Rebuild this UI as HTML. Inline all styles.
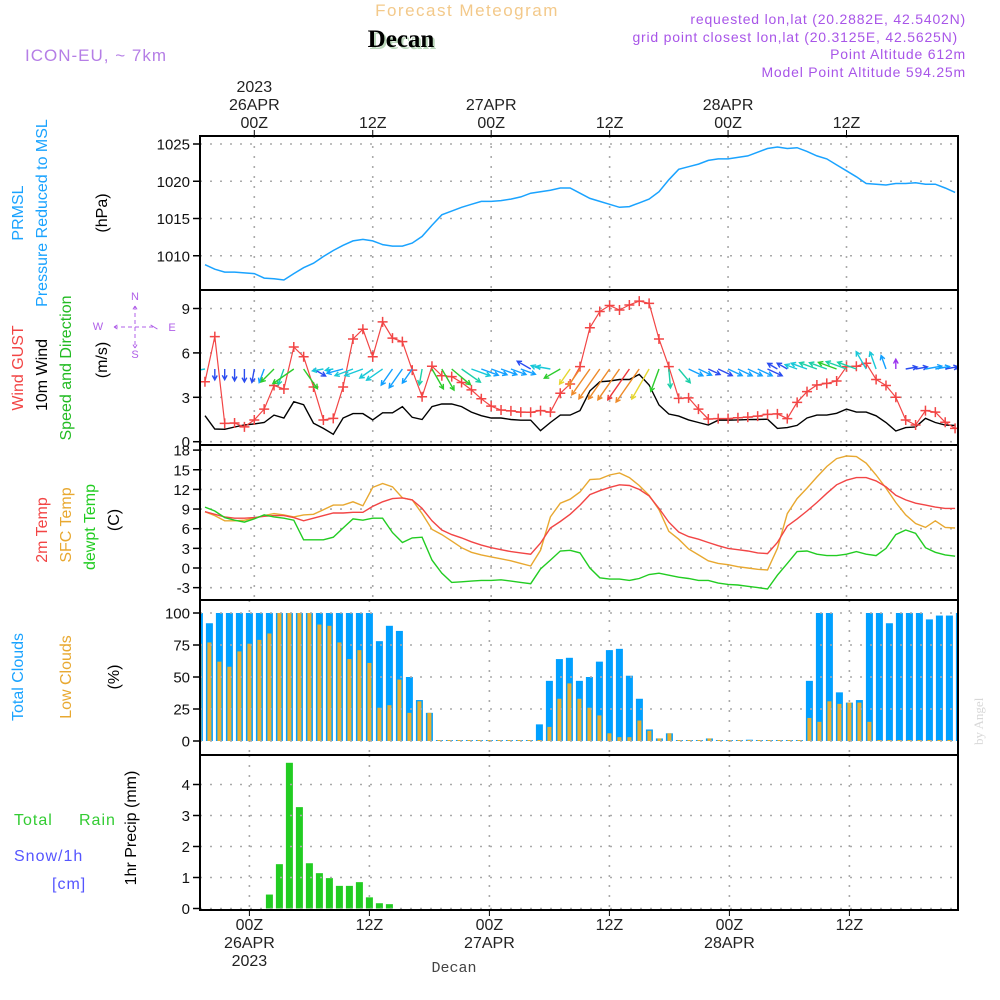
<!DOCTYPE html>
<html><head><meta charset="utf-8">
<style>
html,body{margin:0;padding:0;background:#fff;}
svg{display:block;}
text{font-family:"Liberation Sans",sans-serif;}
</style></head>
<body>
<svg id="chart" width="1000" height="1000" viewBox="0 0 1000 1000" xmlns="http://www.w3.org/2000/svg">
<rect x="0" y="0" width="1000" height="1000" fill="#fff"/>
<text x="467" y="16" text-anchor="middle" font-size="17" fill="#f3c98a" letter-spacing="1.5">Forecast Meteogram</text>
<text x="403" y="49" text-anchor="middle" font-size="25" font-weight="bold" style="font-family:'Liberation Serif',serif" fill="#bcd8bc">Decan</text>
<text x="401" y="47" text-anchor="middle" font-size="25" font-weight="bold" style="font-family:'Liberation Serif',serif" fill="#000">Decan</text>
<text x="25" y="61" font-size="17" fill="#b57ee6" letter-spacing="1">ICON-EU, ~ 7km</text>
<text x="966" y="24" text-anchor="end" font-size="14" fill="#a855e8" letter-spacing="0.8">requested lon,lat (20.2882E, 42.5402N)</text>
<text x="958" y="42" text-anchor="end" font-size="14" fill="#a855e8" letter-spacing="0.8">grid point closest lon,lat (20.3125E, 42.5625N)</text>
<text x="966" y="59" text-anchor="end" font-size="14" fill="#a855e8" letter-spacing="0.8">Point Altitude 612m</text>
<text x="966" y="77" text-anchor="end" font-size="14" fill="#a855e8" letter-spacing="0.8">Model Point Altitude 594.25m</text>
<text transform="translate(983,745) rotate(-90)" font-size="13" style="font-family:'Liberation Serif',serif" fill="#d8d8d8">by Angel</text>
<text x="454" y="972" text-anchor="middle" font-size="15" style="font-family:'Liberation Mono',monospace" fill="#444">Decan</text>
<g id="lefts"></g>
<g id="plot"></g>
</svg>
<script>
// ---------------- DATA (hourly, h = -5 .. 71 relative to 26APR 00Z) ----------------
const startHour = -5;
const pressure = [1008.8,1008.2,1007.8,1007.8,1007.7,1007.6,
1007.0,1006.9,1006.75,1007.6,1008.4,1009.0,1009.9,1010.7,1011.4,1012.0,
1012.2,1012.0,1011.5,1011.3,1011.3,1011.7,1012.6,1014.1,1015.5,1016.0,
1016.5,1016.9,1017.3,1017.3,1017.4,1017.6,1017.9,1018.4,1018.6,1018.8,
1019.1,1019.1,1018.4,1017.7,1017.3,1016.9,1016.5,1016.6,1017.1,1017.6,
1018.6,1020.2,1021.6,1021.95,1022.3,1022.8,1023.0,1023.0,1023.2,1023.4,
1023.9,1024.4,1024.6,1024.4,1024.5,1024.0,1023.4,1023.0,1022.2,1021.4,
1020.6,1019.7,1019.6,1019.5,1019.7,1019.7,1019.8,1019.6,1019.6,1019.1,1018.5];
const gust = [4.05,7.1,1.24,1.26,1.0,1.47,
2.2,3.8,3.56,6.4,5.74,3.7,1.47,1.58,3.7,6.94,
7.6,5.74,8.1,7.0,6.76,4.84,3.04,5.1,4.46,4.4,
4.0,3.5,2.9,2.4,2.14,2.08,2.0,1.99,2.1,2.0,
3.27,3.9,5.07,7.7,8.8,9.2,8.9,9.24,9.5,9.35,
6.94,5.07,2.93,2.96,2.2,1.53,1.56,1.56,1.62,1.66,
1.73,1.85,1.88,1.56,2.66,3.38,3.83,3.94,4.1,5.07,
5.1,5.3,4.2,3.8,3.0,1.47,1.13,2.1,2.0,1.31,0.9];
const wind10 = [1.76,0.86,0.84,0.99,1.13,1.2,
1.3,1.8,1.6,2.7,2.5,1.25,0.9,0.5,1.6,1.9,
1.9,1.47,1.95,1.95,2.37,1.65,1.5,2.37,2.55,2.55,
2.37,2.0,1.76,1.6,1.6,1.5,1.45,1.45,0.74,1.3,
1.8,1.8,2.1,3.43,4.05,4.1,4.2,4.2,4.55,3.83,
2.48,1.87,1.73,1.47,1.3,1.13,1.45,1.45,1.47,1.49,
1.5,1.52,0.9,0.95,1.1,1.6,1.8,1.8,1.92,2.2,
2.0,2.0,1.75,1.3,0.72,0.95,1.0,1.58,1.3,1.13,1.1];
const windToward = [260,180,180,180,180,190,
200,225,200,235,145,120,260,260,255,250,
250,235,235,215,215,215,190,150,150,130,
125,110,110,110,110,110,110,300,290,280,
240,215,215,215,215,215,215,215,215,210,
200,175,140,115,115,115,115,115,115,115,
115,115,300,300,290,290,290,290,290,290,
290,330,340,340,0,80,80,80,80,80,80];
const windColorClass = ["c","b","b","b","b","b",
"lb","g","t","g","g","b","c","c","lb","c",
"c","c","c","lb","lb","lb","t","g","g","g",
"t","c","lb","lb","lb","lb","lb","b","c","c",
"g","y","o","o","o","o","o","r","o","y",
"g","t","t","lb","lb","b","b","lb","lb","lb",
"lb","b","b","b","c","c","t","t","g","t",
"t","c","c","lb","p","b","b","lb","lb","b","b"];
const temp2m = [8.6,8.2,7.8,7.6,7.6,7.7,
7.9,8.0,8.0,7.7,7.2,7.6,8.0,8.4,8.4,8.5,
8.5,9.4,10.1,10.6,10.7,10.4,9.1,7.2,5.8,5.1,
4.6,4.0,3.5,3.1,2.8,2.5,2.3,2.1,3.8,6.1,
7.1,8.2,9.6,11.2,11.8,12.3,12.7,12.6,12.0,11.0,
9.1,7.0,5.5,4.8,4.4,3.9,3.4,3.0,2.8,2.6,
2.3,2.2,3.9,6.4,7.5,8.7,10.0,11.4,12.7,13.4,
13.8,13.8,13.3,12.4,11.1,10.4,9.9,9.6,9.3,9.1,9.1];
const tempSfc = [8.6,8.0,7.2,7.2,7.3,7.6,
8.0,8.3,8.1,7.8,8.1,8.2,8.9,9.6,9.6,10.1,
9.5,12.3,12.9,12.4,10.7,10.4,8.3,5.9,5.1,4.1,
3.1,2.4,2.0,1.7,1.4,1.1,0.7,0.3,2.7,7.8,
9.9,10.5,11.6,13.5,13.6,14.2,14.5,13.8,12.6,11.1,
8.9,5.6,4.4,2.9,2.0,1.1,0.7,0.5,0.2,0.0,
-0.2,-0.3,3.0,8.3,10.6,12.2,13.9,15.5,16.7,17.1,
17.0,16.0,14.2,12.2,10.0,8.1,6.8,6.2,7.2,6.2,6.1];
const dewpt = [9.3,8.7,7.7,7.3,7.0,7.5,
8.1,7.8,7.6,7.3,4.3,4.3,4.3,4.7,6.1,7.5,
7.3,7.6,7.6,5.4,3.9,4.6,4.7,1.2,-0.8,-2.2,
-2.1,-2.0,-1.9,-1.9,-1.8,-2.0,-2.2,-2.4,-0.15,1.2,
2.6,2.7,2.3,0.0,-1.5,-1.7,-1.7,-1.9,-1.6,-1.0,
-0.8,-1.1,-1.4,-1.6,-1.9,-1.9,-2.3,-2.5,-2.6,-2.8,
-3.0,-3.2,-1.1,0.7,2.5,2.6,2.1,1.9,1.9,2.1,
2.5,2.1,1.9,3.0,5.1,5.8,5.3,3.1,2.4,2.0,1.8];
const totalClouds = [100,92,100,100,100,100,
100,100,100,100,100,100,100,100,100,100,
100,100,78,90,86,50,32,22,0,0,
0,0,0,0,0,0,0,0,13,47,
64,65,47,50,62,71,72,51,33,9,
2,6,0,0,0,2,0,0,0,1,
0,0,0,0,0,47,100,100,38,30,
32,100,100,92,100,100,100,95,98,98,100];
const lowClouds = [76,77,62,58,70,76,
79,84,100,100,100,100,91,90,77,64,
71,61,26,28,48,22,31,22,0,0,
0,0,0,0,0,0,0,0,0,11,
33,45,33,26,20,6,3,3,16,8,
2,6,0,0,0,2,0,0,0,0,
0,0,0,0,0,18,15,31,29,30,
30,15,0,0,0,0,0,0,0,0,0];
const precip = [0,0,0,0,0,0,
0,0.45,1.43,4.7,3.27,1.46,1.14,0.98,0.73,0.73,
0.85,0.36,0.17,0.14,0,0,0,0,0,0,
0,0,0,0,0,0,0,0,0,0,
0,0,0,0,0,0,0,0,0,0,
0,0,0,0,0,0,0,0,0,0,
0,0,0,0,0,0,0,0,0,0,
0,0,0,0,0,0,0,0,0,0,0];
const pressTicks = [1010,1015,1020,1025];
const windTicks = [0,3,6,9];
const tempTicks = [-3,0,3,6,9,12,15,18];
const cloudTicks = [0,25,50,75,100];
const precipTicks = [0,1,2,3,4];
const timeTickHours = [0,12,24,36,48,60];
const timeTickLabels = ["00Z","12Z","00Z","12Z","00Z","12Z"];
const dayLabels = [[0,"26APR"],[24,"27APR"],[48,"28APR"]];

// ---------------- LAYOUT / SCALES ----------------
const NS = "http://www.w3.org/2000/svg";
const L = 200, R = 958;
const P1 = [136,290], P2 = [290,445], P3 = [445,600], P4 = [600,755], P5 = [755,910];
const xTop = h => 254.3 + 9.87*h;
const xBot = h => 249.4 + 10.0*h;
const yP = p => 144 + (1025-p)*7.45;
const yW = v => 441.7 - 14.8*v;
const yT = t => 568 - 6.55*t;
const yC = c => 741 - 1.28*c;
const yR = m => 908.5 - 31.0*m;
const plot = document.getElementById('plot');
const lefts = document.getElementById('lefts');

function mk(tag, attrs, parent){
  const e = document.createElementNS(NS, tag);
  for (const k in attrs) e.setAttribute(k, attrs[k]);
  (parent||plot).appendChild(e);
  return e;
}
const defs = mk('defs',{});
[[P1,'c1'],[P2,'c2'],[P3,'c3'],[P4,'c4'],[P5,'c5']].forEach(([p,id])=>{
  const cp = mk('clipPath',{id:id},defs);
  mk('rect',{x:L,y:p[0],width:R-L,height:p[1]-p[0]},cp);
});

function hgrid(vals, yf, clip){
  vals.forEach(v=>{
    const l = mk('line',{x1:L,x2:R,y1:yf(v),y2:yf(v),stroke:'#aaa','stroke-width':1.6,'stroke-dasharray':'2,8','clip-path':'url(#'+clip+')'});
    
    
  });
}
function vgrid(xf, p, clip){
  timeTickHours.forEach(h=>{
    const l = mk('line',{x1:xf(h),x2:xf(h),y1:p[0],y2:p[1],stroke:'#aaa','stroke-width':1.6,'stroke-dasharray':'2,8','clip-path':'url(#'+clip+')'});
    
    
  });
}
function yTicks(vals, yf, name){
  vals.forEach(v=>{
    const t = mk('line',{x1:193,x2:200,y1:yf(v),y2:yf(v),stroke:'#000','stroke-width':1.5});
    
    
    const tx = mk('text',{x:190,y:yf(v)+5.5,'text-anchor':'end','font-size':15,fill:'#111'});
    tx.textContent = v;
    
    
  });
}
function line(vals, xf, yf, color, clip, name, w){
  const pts = vals.map((v,i)=>xf(startHour+i).toFixed(1)+','+yf(v).toFixed(1)).join(' ');
  const pl = mk('polyline',{points:pts,fill:'none',stroke:color,'stroke-width':w||1.4,'clip-path':'url(#'+clip+')'});
  
  
}

// PANEL 1
hgrid(pressTicks, yP, 'c1'); vgrid(xTop, P1, 'c1');
yTicks(pressTicks, yP, 'pressure');
line(pressure, xTop, yP, '#1aa3ff', 'c1', 'pressure-line', 1.5);

// PANEL 2
hgrid(windTicks, yW, 'c2'); vgrid(xTop, P2, 'c2');
yTicks(windTicks, yW, 'wind');
line(wind10, xTop, yW, '#000', 'c2', 'wind10m-line', 1.4);
line(gust, xTop, yW, '#f24545', 'c2', 'gust-line', 1.2);
gust.forEach((v,i)=>{
  const x = xTop(startHour+i), y = yW(v);
  const g = mk('path',{d:`M${x-5},${y}H${x+5}M${x},${y-5}V${y+5}`,stroke:'#f24545','stroke-width':1.5,'clip-path':'url(#c2)'});
  
  
});
const colorMap = {b:'#2a4cf0',lb:'#12a0ff',c:'#18c8d8',t:'#1ccfa8',g:'#2ccc2c',y:'#e6d630',o:'#ee8a2a',r:'#ee3838',p:'#9a33ee'};
wind10.forEach((v,i)=>{
  const x = xTop(startHour+i), y = 369;
  const len = 8*v + 4;
  const a = windToward[i]*Math.PI/180;
  const dx = Math.sin(a), dy = -Math.cos(a);
  const x2 = x + dx*len, y2 = y + dy*len;
  const hs = 5;
  const ang = Math.atan2(dy,dx);
  const h1x = x2 - hs*Math.cos(ang-0.5), h1y = y2 - hs*Math.sin(ang-0.5);
  const h2x = x2 - hs*Math.cos(ang+0.5), h2y = y2 - hs*Math.sin(ang+0.5);
  const ar = mk('path',{d:`M${x.toFixed(1)},${y}L${x2.toFixed(1)},${y2.toFixed(1)}M${h1x.toFixed(1)},${h1y.toFixed(1)}L${x2.toFixed(1)},${y2.toFixed(1)}L${h2x.toFixed(1)},${h2y.toFixed(1)}`,
    stroke:colorMap[windColorClass[i]],'stroke-width':1.4,fill:'none','clip-path':'url(#c2)'});
  
  
});

// PANEL 3
hgrid(tempTicks, yT, 'c3'); vgrid(xTop, P3, 'c3');
yTicks(tempTicks, yT, 'temp');
line(tempSfc, xTop, yT, '#e8a830', 'c3', 'sfc-temp-line', 1.4);
line(temp2m, xTop, yT, '#f24545', 'c3', 'temp-2m-line', 1.4);
line(dewpt, xTop, yT, '#22cc22', 'c3', 'dewpoint-line', 1.4);

// PANEL 4
vgrid(xBot, P4, 'c4');
yTicks(cloudTicks, yC, 'cloud');
totalClouds.forEach((v,i)=>{
  const x = xBot(startHour+i);
  const hgt = Math.max(yC(0)-yC(v),1);
  const r = mk('rect',{x:x-3.5,y:yC(0)-hgt,width:7,height:hgt,fill:'#00a0ff','clip-path':'url(#c4)'});
  
  
});
lowClouds.forEach((v,i)=>{
  const x = xBot(startHour+i);
  const hgt = Math.max(yC(0)-yC(v),1);
  const r = mk('rect',{x:x-2,y:yC(0)-hgt,width:4,height:hgt,fill:'#e8ae30','clip-path':'url(#c4)'});
  
  
});
hgrid(cloudTicks, yC, 'c4');

// PANEL 5
vgrid(xBot, P5, 'c5');
yTicks(precipTicks, yR, 'precip');
precip.forEach((v,i)=>{
  if (v<=0) return;
  const x = xBot(startHour+i);
  const r = mk('rect',{x:x-3.5,y:yR(v),width:7,height:yR(0)-yR(v),fill:'#22cc22','clip-path':'url(#c5)'});
  
  
});
hgrid(precipTicks, yR, 'c5');

// FRAMES
[P1,P2,P3,P4,P5].forEach((p,k)=>{
  const f = mk('rect',{x:L,y:p[0],width:R-L,height:p[1]-p[0],fill:'none',stroke:'#000','stroke-width':2});
  
  
});

// TIME AXES
timeTickHours.forEach((h,i)=>{
  const xt = xTop(h);
  const t1 = mk('line',{x1:xt,x2:xt,y1:130,y2:136,stroke:'#000','stroke-width':1});
  
  
  const l1 = mk('text',{x:xt,y:128,'text-anchor':'middle','font-size':16,fill:'#222'});
  l1.textContent = timeTickLabels[i];
  
  
  const xb = xBot(h);
  const t2 = mk('line',{x1:xb,x2:xb,y1:910,y2:916,stroke:'#000','stroke-width':1});
  
  
  const l2 = mk('text',{x:xb,y:930,'text-anchor':'middle','font-size':16,fill:'#222'});
  l2.textContent = timeTickLabels[i];
  
  
});
dayLabels.forEach(([h,lab])=>{
  const d1 = mk('text',{x:xTop(h),y:110,'text-anchor':'middle','font-size':16,fill:'#222'});
  d1.textContent = lab;
  
  
  const d2 = mk('text',{x:xBot(h),y:948,'text-anchor':'middle','font-size':16,fill:'#222'});
  d2.textContent = lab;
  
  
});
const yr1 = mk('text',{x:xTop(0),y:92,'text-anchor':'middle','font-size':16,fill:'#222'});
yr1.textContent = '2023';


const yr2 = mk('text',{x:xBot(0),y:966,'text-anchor':'middle','font-size':16,fill:'#222'});
yr2.textContent = '2023';



// LEFT TITLES
function vtext(x, y, txt, color, name, size){
  const t = mk('text',{transform:`translate(${x},${y}) rotate(-90)`,'text-anchor':'middle','font-size':size||16,fill:color},lefts);
  t.textContent = txt;
  
  
}
function htext(x, y, txt, color, name){
  const t = mk('text',{x:x,y:y,'font-size':16,fill:color,'letter-spacing':'1'},lefts);
  t.textContent = txt;
  
  
}
vtext(23,213,'PRMSL','#1aa3ff','pressure-title-1');
vtext(47,213,'Pressure Reduced to MSL','#1aa3ff','pressure-title-2');
vtext(107,213,'(hPa)','#000','pressure-unit');
vtext(23,368,'Wind GUST','#f24545','gust-title');
vtext(47,375,'10m Wind','#000','wind-title');
vtext(71,368,'Speed and Direction','#22bb22','wind-direction-title');
vtext(107,360,'(m/s)','#000','wind-unit');
vtext(47,530,'2m Temp','#f24545','temp-2m-title');
vtext(71,525,'SFC Temp','#e8a830','sfc-temp-title');
vtext(95,527,'dewpt Temp','#22cc22','dewpoint-title');
vtext(119,520,'(C)','#000','temp-unit');
vtext(23,677,'Total Clouds','#1aa3ff','total-clouds-title');
vtext(71,677,'Low Clouds','#e8a830','low-clouds-title');
vtext(119,677,'(%)','#000','cloud-unit');
vtext(136,828,'1hr Precip (mm)','#000','precip-unit');
htext(14,825,'Total','#33cc33','rain-title-total');
htext(79,825,'Rain','#33cc33','rain-title-rain');
htext(14,861,'Snow/1h','#5555ff','snow-title');
htext(52,889,'[cm]','#5555ff','snow-unit');
const cmp = [['N',135,300],['S',135,358],['W',98,330],['E',172,331]];
cmp.forEach(([s,x,y])=>{
  const t = mk('text',{x:x,y:y,'text-anchor':'middle','font-size':11,fill:'#b060e8'},lefts);
  t.textContent = s;
  
  
});
const cr = mk('path',{d:'M114,327H154M114,327l5,-3M114,327l5,3M154,327l-5,-3M154,327l5,3M135,306V348M135,306l-3,5M135,306l3,5M135,348l-3,-5M135,348l3,-5',stroke:'#b060e8','stroke-width':1,fill:'none','stroke-dasharray':'4,3'},lefts);


</script>
</body></html>
